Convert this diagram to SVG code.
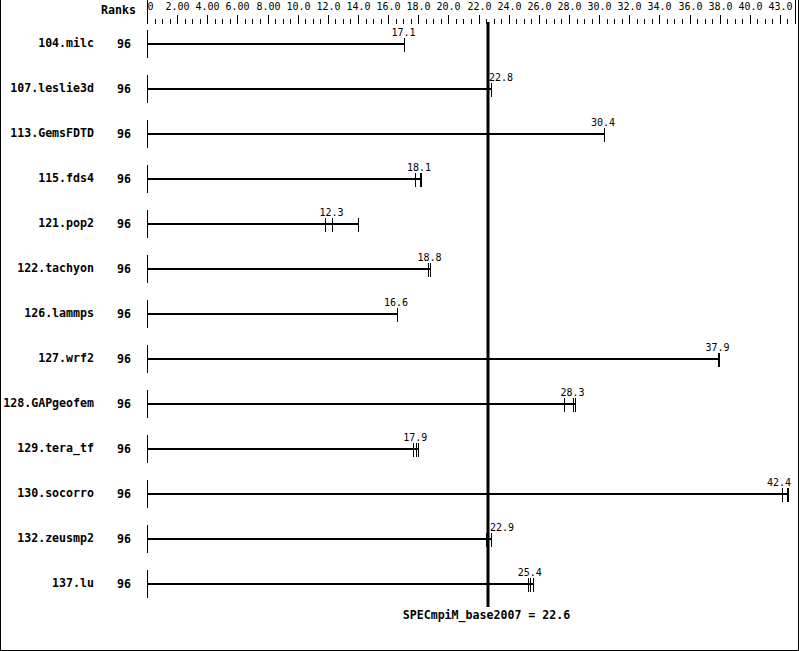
<svg xmlns="http://www.w3.org/2000/svg" width="799" height="651" viewBox="0 0 799 651">
<style>
.bg{fill:#fff}
.frame{fill:none;stroke:#000;stroke-width:1}
.ax{fill:none;stroke:#000;stroke-width:1}
.lbl{font-family:"DejaVu Sans Mono","Liberation Mono",monospace;font-size:10px;fill:#000}
.name{font-family:"DejaVu Sans Mono","Liberation Mono",monospace;font-size:11.6px;font-weight:bold;fill:#000;text-anchor:end}
.rank{font-family:"DejaVu Sans Mono","Liberation Mono",monospace;font-size:11.6px;font-weight:bold;fill:#000}
.mid{text-anchor:middle}
.bar{stroke:#000;stroke-width:2;fill:none}
.base{stroke:#000;stroke-width:1;fill:none}
.tk{stroke:#000;stroke-width:1;fill:none}
.tk2{stroke:#000;stroke-width:2;fill:none}
.mean{stroke:#000;stroke-width:3;fill:none}
</style>
<rect class="bg" x="0" y="0" width="799" height="651"/>
<path class="frame" d="M0.5,0 V650.5 H798.5 V0"/>

<g id="axis">
<text class="rank" x="101" y="14">Ranks</text>
<path class="ax" d="M147.5,0V24 M795.5,0V24"/>
<path class="ax" d="M177.5,15V24 M207.5,15V24 M237.5,15V24 M268.5,15V24 M298.5,15V24 M328.5,15V24 M358.5,15V24 M388.5,15V24 M418.5,15V24 M448.5,15V24 M479.5,15V24 M509.5,15V24 M539.5,15V24 M569.5,15V24 M599.5,15V24 M629.5,15V24 M659.5,15V24 M690.5,15V24 M720.5,15V24 M750.5,15V24 M780.5,15V24"/>
<path class="ax" d="M155.5,19V24 M162.5,19V24 M170.5,19V24 M185.5,19V24 M192.5,19V24 M200.5,19V24 M215.5,19V24 M222.5,19V24 M230.5,19V24 M245.5,19V24 M252.5,19V24 M260.5,19V24 M275.5,19V24 M283.5,19V24 M290.5,19V24 M305.5,19V24 M313.5,19V24 M320.5,19V24 M335.5,19V24 M343.5,19V24 M350.5,19V24 M366.5,19V24 M373.5,19V24 M381.5,19V24 M396.5,19V24 M403.5,19V24 M411.5,19V24 M426.5,19V24 M433.5,19V24 M441.5,19V24 M456.5,19V24 M463.5,19V24 M471.5,19V24 M486.5,19V24 M494.5,19V24 M501.5,19V24 M516.5,19V24 M524.5,19V24 M531.5,19V24 M546.5,19V24 M554.5,19V24 M561.5,19V24 M577.5,19V24 M584.5,19V24 M592.5,19V24 M607.5,19V24 M614.5,19V24 M622.5,19V24 M637.5,19V24 M644.5,19V24 M652.5,19V24 M667.5,19V24 M674.5,19V24 M682.5,19V24 M697.5,19V24 M705.5,19V24 M712.5,19V24 M727.5,19V24 M735.5,19V24 M742.5,19V24 M757.5,19V24 M765.5,19V24 M772.5,19V24 M787.5,19V24"/>
<g class="lbl mid">
<text x="150.5" y="10">0</text>
<text x="177.5" y="10">2.00</text>
<text x="207.5" y="10">4.00</text>
<text x="237.5" y="10">6.00</text>
<text x="268.5" y="10">8.00</text>
<text x="298.5" y="10">10.0</text>
<text x="328.5" y="10">12.0</text>
<text x="358.5" y="10">14.0</text>
<text x="388.5" y="10">16.0</text>
<text x="418.5" y="10">18.0</text>
<text x="448.5" y="10">20.0</text>
<text x="479.5" y="10">22.0</text>
<text x="509.5" y="10">24.0</text>
<text x="539.5" y="10">26.0</text>
<text x="569.5" y="10">28.0</text>
<text x="599.5" y="10">30.0</text>
<text x="629.5" y="10">32.0</text>
<text x="659.5" y="10">34.0</text>
<text x="690.5" y="10">36.0</text>
<text x="720.5" y="10">38.0</text>
<text x="750.5" y="10">40.0</text>
<text x="780.5" y="10">43.0</text>
</g>
</g>

<g id="connectors">
<line class="mean" x1="488" y1="22" x2="488" y2="607"/>
</g>

<g id="r104">
<text class="name" x="94" y="47">104.milc</text>
<text class="rank" x="117" y="48">96</text>
<path class="base" d="M147.5,30V58"/>
<path class="bar" d="M147,44H404.5"/>
<path class="tk" d="M404.5,38V52"/>
<text class="lbl mid" x="403.5" y="36">17.1</text>
</g>

<g id="r107">
<text class="name" x="94" y="92">107.leslie3d</text>
<text class="rank" x="117" y="93">96</text>
<path class="base" d="M147.5,75V103"/>
<path class="bar" d="M147,89H491.5"/>
<path class="tk" d="M491.5,83V97"/>
<text class="lbl" x="489" y="81">22.8</text>
</g>

<g id="r113">
<text class="name" x="94" y="137">113.GemsFDTD</text>
<text class="rank" x="117" y="138">96</text>
<path class="base" d="M147.5,120V148"/>
<path class="bar" d="M147,134H604.5"/>
<path class="tk" d="M604.5,128V142"/>
<text class="lbl mid" x="603" y="126">30.4</text>
</g>

<g id="r115">
<text class="name" x="94" y="182">115.fds4</text>
<text class="rank" x="117" y="183">96</text>
<path class="base" d="M147.5,165V193"/>
<path class="bar" d="M147,179H421"/>
<path class="tk" d="M415.5,173V187"/>
<path class="tk2" d="M421,173V187"/>
<text class="lbl mid" x="419" y="171">18.1</text>
</g>

<g id="r121">
<text class="name" x="94" y="227">121.pop2</text>
<text class="rank" x="117" y="228">96</text>
<path class="base" d="M147.5,210V238"/>
<path class="bar" d="M147,224H358.5"/>
<path class="tk" d="M325.5,218V232 M332.5,218V232 M358.5,218V232"/>
<text class="lbl mid" x="331.5" y="216">12.3</text>
</g>

<g id="r122">
<text class="name" x="94" y="272">122.tachyon</text>
<text class="rank" x="117" y="273">96</text>
<path class="base" d="M147.5,255V283"/>
<path class="bar" d="M147,269H430.5"/>
<path class="tk" d="M428.5,263V277 M430.5,263V277"/>
<text class="lbl mid" x="429.5" y="261">18.8</text>
</g>

<g id="r126">
<text class="name" x="94" y="317">126.lammps</text>
<text class="rank" x="117" y="318">96</text>
<path class="base" d="M147.5,300V328"/>
<path class="bar" d="M147,314H397.5"/>
<path class="tk" d="M397.5,308V322"/>
<text class="lbl mid" x="396" y="306">16.6</text>
</g>

<g id="r127">
<text class="name" x="94" y="362">127.wrf2</text>
<text class="rank" x="117" y="363">96</text>
<path class="base" d="M147.5,345V373"/>
<path class="bar" d="M147,359H719"/>
<path class="tk2" d="M719,353V367"/>
<text class="lbl mid" x="717.5" y="351">37.9</text>
</g>

<g id="r128">
<text class="name" x="94" y="407">128.GAPgeofem</text>
<text class="rank" x="117" y="408">96</text>
<path class="base" d="M147.5,390V418"/>
<path class="bar" d="M147,404H575.5"/>
<path class="tk" d="M564.5,398V412 M573.5,398V412 M575.5,398V412"/>
<text class="lbl mid" x="572.5" y="396">28.3</text>
</g>

<g id="r129">
<text class="name" x="94" y="452">129.tera_tf</text>
<text class="rank" x="117" y="453">96</text>
<path class="base" d="M147.5,435V463"/>
<path class="bar" d="M147,449H418.5"/>
<path class="tk" d="M413.5,443V457 M416.5,443V457 M418.5,443V457"/>
<text class="lbl mid" x="415.3" y="441">17.9</text>
</g>

<g id="r130">
<text class="name" x="94" y="497">130.socorro</text>
<text class="rank" x="117" y="498">96</text>
<path class="base" d="M147.5,480V508"/>
<path class="bar" d="M147,494H788"/>
<path class="tk" d="M782.5,488V502"/>
<path class="tk2" d="M788,488V502"/>
<text class="lbl mid" x="779" y="486">42.4</text>
</g>

<g id="r132">
<text class="name" x="94" y="542">132.zeusmp2</text>
<text class="rank" x="117" y="543">96</text>
<path class="base" d="M147.5,525V553"/>
<path class="bar" d="M147,539H491.5"/>
<path class="tk2" d="M487,533V547"/>
<path class="tk" d="M491.5,533V547"/>
<text class="lbl" x="490" y="531">22.9</text>
</g>

<g id="r137">
<text class="name" x="94" y="587">137.lu</text>
<text class="rank" x="117" y="588">96</text>
<path class="base" d="M147.5,570V598"/>
<path class="bar" d="M147,584H533.5"/>
<path class="tk" d="M528.5,578V592 M530.5,578V592 M533.5,578V592"/>
<text class="lbl mid" x="529.7" y="576">25.4</text>
</g>

<g id="mean-label">
<text class="rank mid" x="486.5" y="619">SPECmpiM_base2007 = 22.6</text>
</g>
</svg>
